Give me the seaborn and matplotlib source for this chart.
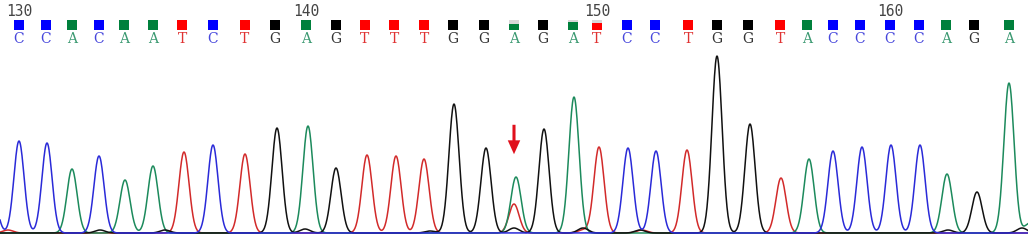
import numpy as np
import pandas as pd
import seaborn as sns
import matplotlib.pyplot as plt
from matplotlib.patches import Rectangle

# %% data (x in scan units, heights in signal units)
first_base = 130
base_calls = list("CCACAATCTGAGTTTGGAGATCCTGGTACCCCAGA")
base_pos = [19, 46, 72, 99, 124, 153, 182, 213, 245, 275, 306, 336, 365, 394, 424,
            453, 484, 514, 543, 573, 597, 627, 655, 688, 717, 748, 780, 807, 833,
            860, 890, 919, 946, 974, 1009]
peak_pos = [19, 47, 72, 99, 125, 153, 184, 213, 245, 277, 308, 336, 367, 396, 424,
            454, 486, 516, 544, 574, 599, 628, 656, 687, 717, 750, 781, 809, 833,
            862, 891, 920, 947, 977, 1009]
peak_height = [92, 90, 64, 77, 53, 67, 81, 88, 79, 105, 107, 65, 78, 77, 74,
               129, 85, 56, 104, 136, 86, 85, 82, 83, 177, 109, 55, 74, 82,
               86, 88, 88, 59, 41, 150]

# secondary / background peaks
minor_base = ["C", "T", "T", "G", "G", "G", "G", "G", "T", "G", "G", "T", "G", "G", "A"]
minor_pos = [-8, 514, 8, 100, 165, 305, 430, 514, 583, 583, 640, 642, 948, 1022, 1030]
minor_height = [45, 29, 3, 3, 3, 4, 2, 5, 3, 5, 3, 3, 3, 5, 10]

# share of the quality box left blank (grey) per base
qual_blank = {147: 0.45, 149: 0.2, 150: 0.3}

channel_order = ["T", "A", "G", "C"]
trace_colors = {"A": "#1c8a5c", "C": "#2a2ad8", "G": "#111111", "T": "#d22a2a"}
box_colors = {"A": "#00803c", "C": "#0000ff", "G": "#000000", "T": "#ff0000"}
text_colors = {"A": "#3c9a72", "C": "#4646dc", "G": "#333333", "T": "#e03232"}

# %% build traces
sigma = 5.1
scan = np.arange(0, 1029, 0.5)
all_base = base_calls + minor_base
all_pos = peak_pos + minor_pos
all_height = peak_height + minor_height
rows = []
for ch in channel_order:
    signal = np.zeros_like(scan)
    for b, p, h in zip(all_base, all_pos, all_height):
        if b == ch:
            signal += h * np.exp(-0.5 * ((scan - p) / sigma) ** 2)
    rows.append(pd.DataFrame({"scan": scan, "signal": signal, "channel": ch}))
df = pd.concat(rows, ignore_index=True)

# %% plot
sns.set_style("white")
fig = plt.figure(figsize=(10.28, 2.4), dpi=100)
ax = fig.add_axes([0, 0, 1, 1])

sns.lineplot(data=df, x="scan", y="signal", hue="channel", hue_order=channel_order,
             palette=trace_colors, linewidth=1.1, legend=False, ax=ax, sort=False)

box_y, box_size = 208.5, 10
for i, (b, x) in enumerate(zip(base_calls, base_pos)):
    num = first_base + i
    blank = qual_blank.get(num, 0)
    if blank:
        ax.add_patch(Rectangle((x - box_size / 2, box_y - box_size / 2), box_size, box_size,
                               color="#d8d8d8", lw=0))
    ax.add_patch(Rectangle((x - box_size / 2, box_y - box_size / 2), box_size,
                           box_size * (1 - blank), color=box_colors[b], lw=0))
    ax.text(x, 194, b, color=text_colors[b], ha="center", va="center",
            fontsize=10, family="DejaVu Serif")
    if num % 10 == 0:
        ax.text(x, 222, str(num), color="#444444", ha="center", va="center",
                fontsize=10.5, family="DejaVu Sans Mono")

# arrow at the heterozygous position
ax.annotate("", xy=(base_pos[17], 76), xytext=(base_pos[17], 111),
            arrowprops=dict(arrowstyle="simple,head_width=0.9,head_length=1.0,tail_width=0.22",
                            color="#e0101c", lw=0, mutation_scale=10))

ax.set_xlim(0, 1028)
ax.set_ylim(-7, 233)
ax.axis("off")

fig.savefig("out.png", dpi=100)
